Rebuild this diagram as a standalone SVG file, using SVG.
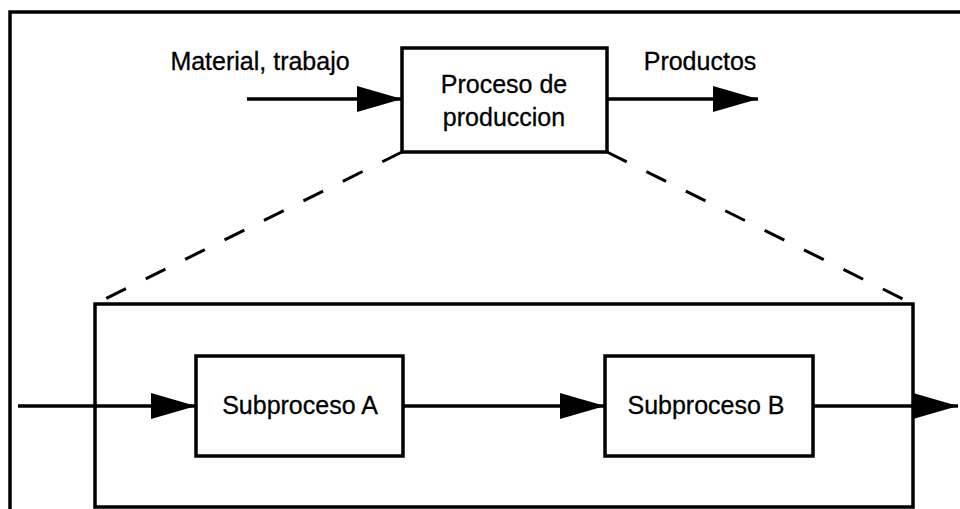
<svg xmlns="http://www.w3.org/2000/svg" width="960" height="509" viewBox="0 0 960 509">
<style>
.box{fill:#fff;stroke:#000;stroke-width:3.5}
.ln{stroke:#000;stroke-width:3.5;fill:none}
.dash{stroke:#000;stroke-width:3;fill:none;stroke-dasharray:22 22}
text{font-family:"Liberation Sans",Arial,sans-serif;font-size:25px;fill:#000;stroke:#000;stroke-width:0.3}
</style>
<defs>
<marker id="ah" markerUnits="userSpaceOnUse" markerWidth="48" markerHeight="28" refX="45" refY="13" orient="auto">
<path d="M0,0 L45,13 L0,26 Z" fill="#000"/>
</marker>
</defs>
<rect width="960" height="509" fill="#fff"/>
<g id="frame">
<path class="ln" d="M10,509 V12 H960"/>
</g>
<g id="connectors">
<line class="dash" x1="402" y1="152" x2="95" y2="304"/>
<line class="dash" x1="607" y1="152" x2="913" y2="304"/>
<line class="ln" x1="247" y1="99" x2="402" y2="99" marker-end="url(#ah)"/>
<line class="ln" x1="607" y1="99" x2="758" y2="99" marker-end="url(#ah)"/>
<line class="ln" x1="18" y1="406" x2="196" y2="406" marker-end="url(#ah)"/>
<line class="ln" x1="403" y1="406" x2="605" y2="406" marker-end="url(#ah)"/>
<line class="ln" x1="813" y1="406" x2="958" y2="406" marker-end="url(#ah)"/>
</g>
<g id="label-input"><text x="260" y="70" text-anchor="middle">Material, trabajo</text></g>
<g id="label-output"><text x="700" y="70" text-anchor="middle">Productos</text></g>
<g id="proceso">
<rect class="box" x="402" y="48" width="205" height="104"/>
<text x="504" y="93" text-anchor="middle">Proceso de</text>
<text x="504" y="126" text-anchor="middle">produccion</text>
</g>
<g id="detalle">
<rect class="box" x="95" y="304" width="818" height="203" style="fill:none"/>
</g>
<g id="subA">
<rect class="box" x="196" y="356" width="207" height="100"/>
<text x="300" y="414" text-anchor="middle">Subproceso A</text>
</g>
<g id="subB">
<rect class="box" x="605" y="356" width="208" height="100"/>
<text x="706" y="414" text-anchor="middle">Subproceso B</text>
</g>
</svg>
